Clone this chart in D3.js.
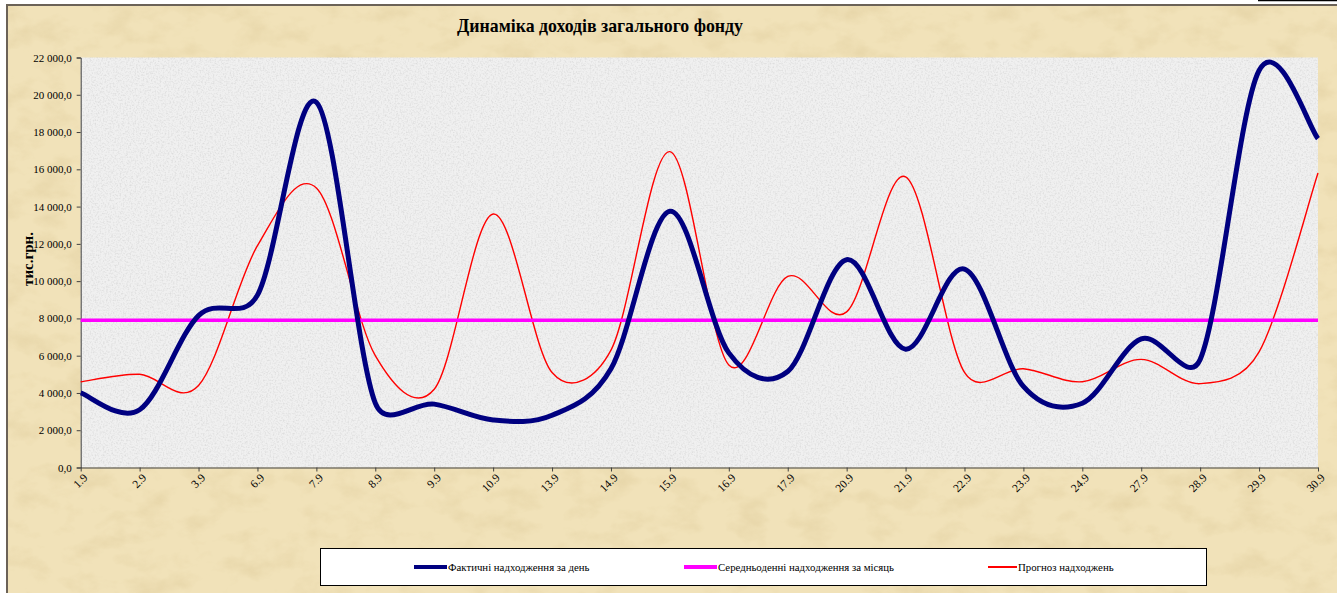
<!DOCTYPE html>
<html>
<head>
<meta charset="utf-8">
<script src="https://cdn.jsdelivr.net/npm/d3@7"></script>
<style>
  html, body { margin: 0; padding: 0; background: #ffffff; }
  svg { display: block; }
  text { font-family: "Liberation Serif", "Times New Roman", serif; fill: #000; }
</style>
</head>
<body>
<svg id="chart" width="1337" height="593"></svg>
<script>
const categories = ["1.9","2.9","3.9","6.9","7.9","8.9","9.9","10.9","13.9","14.9","15.9","16.9","17.9","20.9","21.9","22.9","23.9","24.9","27.9","28.9","29.9","30.9"];
const actual   = [4000,3100,8150,9250,19600,3450,3400,2550,2800,5300,13750,6150,5150,11150,6350,10650,4350,3450,6900,5800,21300,17650];
const average  = [7900,7900,7900,7900,7900,7900,7900,7900,7900,7900,7900,7900,7900,7900,7900,7900,7900,7900,7900,7900,7900,7900];
const forecast = [4600,5000,4400,11900,15000,6000,4200,13600,5100,6300,16950,5500,10250,8350,15600,5100,5300,4600,5800,4500,6200,15800];
const yTickValues = [0,2000,4000,6000,8000,10000,12000,14000,16000,18000,20000,22000];
const seriesNames = ["Фактичні надходження за день","Середньоденні надходження за місяць","Прогноз надходжень"];
const titleText = "Динаміка доходів загального фонду";
const yAxisTitle = "тис.грн.";

const svg = d3.select("#chart");
const W = 1337, H = 593;
const plot = {left: 80.7, right: 1318, top: 57.5, bottom: 467.5};

const defs = svg.append("defs");
const fp = defs.append("filter").attr("id","parch").attr("x",0).attr("y",0).attr("width","100%").attr("height","100%");
fp.append("feTurbulence").attr("type","fractalNoise").attr("baseFrequency","0.03 0.045").attr("numOctaves",4).attr("seed",11).attr("result","n");
fp.append("feColorMatrix").attr("in","n").attr("type","matrix")
  .attr("values","0 0 0 0 0.62  0 0 0 0 0.48  0 0 0 0 0.22  1.3 0 0 0 -0.6");
const fg = defs.append("filter").attr("id","grain").attr("x",0).attr("y",0).attr("width","100%").attr("height","100%");
fg.append("feTurbulence").attr("type","fractalNoise").attr("baseFrequency","0.6").attr("numOctaves",2).attr("seed",3).attr("result","n");
fg.append("feColorMatrix").attr("in","n").attr("type","matrix")
  .attr("values","0 0 0 0 0.5  0 0 0 0 0.5  0 0 0 0 0.5  2.4 0 0 0 -1.05");

svg.append("rect").attr("x",0).attr("y",0).attr("width",W).attr("height",H).attr("fill","#ffffff");
svg.append("rect").attr("x",7).attr("y",5).attr("width",W-7).attr("height",H-5).attr("fill","#F1E2B9");
svg.append("rect").attr("x",7).attr("y",5).attr("width",W-7).attr("height",H-5).attr("filter","url(#parch)").attr("opacity",0.45);
svg.append("line").attr("x1",6).attr("x2",W).attr("y1",5).attr("y2",5).attr("stroke","#6b6257").attr("stroke-width",2);
svg.append("line").attr("x1",7).attr("x2",7).attr("y1",4).attr("y2",H).attr("stroke","#6b6257").attr("stroke-width",2);
svg.append("line").attr("x1",1258).attr("x2",W).attr("y1",0.5).attr("y2",0.5).attr("stroke","#000").attr("stroke-width",1.5);

svg.append("rect").attr("x",plot.left).attr("y",plot.top).attr("width",plot.right-plot.left).attr("height",plot.bottom-plot.top).attr("fill","#F0F0F0");
svg.append("rect").attr("x",plot.left).attr("y",plot.top).attr("width",plot.right-plot.left).attr("height",plot.bottom-plot.top).attr("filter","url(#grain)").attr("opacity",0.35);

const x = d3.scalePoint().domain(categories).range([plot.left, plot.right]);
const y = d3.scaleLinear().domain([0, 22000]).range([plot.bottom, plot.top]);

const fmt = v => d3.format(",.1f")(v).replace(/,/g, " ").replace(".", ",");

const yAxis = svg.append("g").attr("transform",`translate(${plot.left},0)`)
  .call(d3.axisLeft(y).tickValues(yTickValues).tickFormat(fmt).tickSize(4).tickPadding(5));
yAxis.select(".domain").attr("stroke","#404040");
yAxis.selectAll(".tick line").attr("stroke","#404040");
yAxis.selectAll(".tick text").style("font-size","11px").attr("fill","#000");

const xAxis = svg.append("g").attr("transform",`translate(0,${plot.bottom})`)
  .call(d3.axisBottom(x).tickSize(4).tickSizeOuter(0));
xAxis.select(".domain").attr("stroke","#404040");
xAxis.selectAll(".tick line").attr("stroke","#404040");
xAxis.selectAll(".tick text")
  .style("font-size","11.5px").attr("fill","#000")
  .attr("text-anchor","end").attr("dy",null).attr("y",null)
  .attr("transform","translate(7,11) rotate(-45)");

// Spreadsheet-style smoothed curve (Bezier, tension 1/6, control arms limited by segment length)
function smoothCurve(context) {
  let pts = [];
  return {
    areaStart(){}, areaEnd(){},
    lineStart(){ pts = []; },
    point(px, py){ pts.push([+px, +py]); },
    lineEnd(){
      const n = pts.length;
      if (!n) return;
      context.moveTo(pts[0][0], pts[0][1]);
      const f = 1/6;
      const ctrl = pts.map((p, i) => {
        const p0 = pts[Math.max(0, i-1)], p2 = pts[Math.min(n-1, i+1)];
        const tx = (p2[0]-p0[0]) * f, ty = (p2[1]-p0[1]) * f;
        const tl = Math.hypot(tx, ty);
        const dPrev = i > 0 ? Math.hypot(p[0]-p0[0], p[1]-p0[1]) : 0;
        const dNext = i < n-1 ? Math.hypot(p2[0]-p[0], p2[1]-p[1]) : 0;
        const sIn = tl > 0 ? Math.min(1, dPrev/2/tl) : 0;
        const sOut = tl > 0 ? Math.min(1, dNext/2/tl) : 0;
        return {inC: [p[0]-tx*sIn, p[1]-ty*sIn], outC: [p[0]+tx*sOut, p[1]+ty*sOut]};
      });
      for (let i = 0; i < n-1; i++) {
        context.bezierCurveTo(ctrl[i].outC[0], ctrl[i].outC[1], ctrl[i+1].inC[0], ctrl[i+1].inC[1], pts[i+1][0], pts[i+1][1]);
      }
    }
  };
}

const line = d3.line().x((d,i)=>x(categories[i])).y(d=>y(d)).curve(smoothCurve);
const straight = d3.line().x((d,i)=>x(categories[i])).y(d=>y(d));

svg.append("path").datum(forecast).attr("d",line).attr("fill","none").attr("stroke","#FF0000").attr("stroke-width",1.4);
svg.append("path").datum(average).attr("d",straight).attr("fill","none").attr("stroke","#FF00FF").attr("stroke-width",3.5);
svg.append("path").datum(actual).attr("d",line).attr("fill","none").attr("stroke","#000080").attr("stroke-width",5).attr("stroke-linejoin","round");

svg.append("text").attr("x",600).attr("y",32).attr("text-anchor","middle")
  .style("font-size","17.8px").style("font-weight","bold").text(titleText);

svg.append("text").attr("transform","translate(33,259) rotate(-90)").attr("text-anchor","middle")
  .style("font-size","15px").style("font-weight","bold").text(yAxisTitle);

const lg = svg.append("g");
lg.append("rect").attr("x",320.5).attr("y",548.5).attr("width",886).attr("height",37).attr("fill","#ffffff").attr("stroke","#000").attr("stroke-width",1);
const legendItems = [
  {name: seriesNames[0], color:"#000080", w:4, x1:414, x2:447},
  {name: seriesNames[1], color:"#FF00FF", w:4, x1:684, x2:717},
  {name: seriesNames[2], color:"#FF0000", w:2, x1:988, x2:1017}
];
legendItems.forEach(it => {
  lg.append("line").attr("x1",it.x1).attr("x2",it.x2).attr("y1",567).attr("y2",567).attr("stroke",it.color).attr("stroke-width",it.w);
  lg.append("text").attr("x",it.x2+1).attr("y",570.5).style("font-size","10.8px").text(it.name);
});
</script>
</body>
</html>
